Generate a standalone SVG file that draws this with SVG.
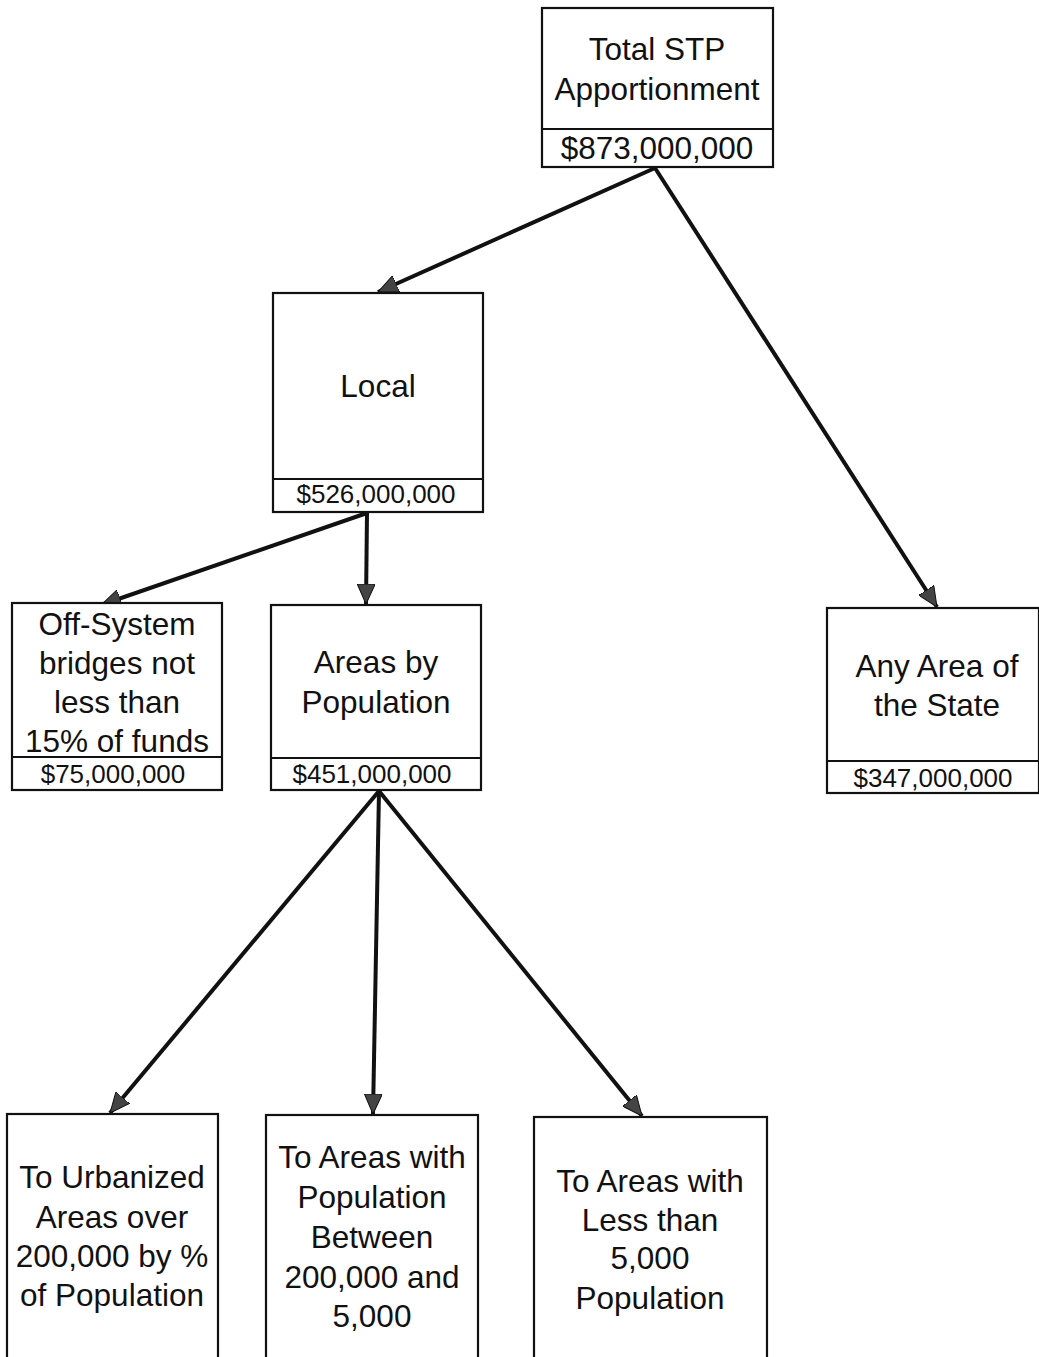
<svg xmlns="http://www.w3.org/2000/svg" width="1039" height="1357" viewBox="0 0 1039 1357">
<style>
.box{fill:#fff;stroke:#111;stroke-width:2.2}
.div{stroke:#111;stroke-width:2.2}
.t{font-family:"Liberation Sans",Arial,sans-serif;font-size:31.5px;fill:#111;text-anchor:middle}
.a{font-family:"Liberation Sans",Arial,sans-serif;font-size:26px;fill:#111;text-anchor:middle}
.c{stroke:#111;stroke-width:4;fill:none;marker-end:url(#ah)}
</style>
<defs>
<marker id="ah" markerUnits="userSpaceOnUse" markerWidth="22" markerHeight="18" refX="20" refY="9" orient="auto">
<path d="M0,0 L20,9 L0,18 Z" fill="#444" stroke="#111" stroke-width="1"/>
</marker>
</defs>
<rect width="1039" height="1357" fill="#fff"/>
<g id="connectors">
<line class="c" x1="655" y1="168" x2="378" y2="292"/>
<line class="c" x1="655" y1="168" x2="937" y2="607"/>
<line class="c" x1="367" y1="513" x2="101" y2="605"/>
<line class="c" x1="367" y1="513" x2="366" y2="604"/>
<line class="c" x1="379" y1="791" x2="110" y2="1113"/>
<line class="c" x1="379" y1="791" x2="373" y2="1114"/>
<line class="c" x1="379" y1="791" x2="642" y2="1116"/>
</g>
<g id="total">
<rect class="box" x="542" y="8" width="231" height="159"/>
<line class="div" x1="542" y1="129" x2="773" y2="129"/>
<text class="t" x="657" y="60">Total STP</text>
<text class="t" x="657" y="100">Apportionment</text>
<text class="t" x="657" y="159">$873,000,000</text>
</g>
<g id="local">
<rect class="box" x="273" y="293" width="210" height="219"/>
<line class="div" x1="273" y1="479" x2="483" y2="479"/>
<text class="t" x="378" y="397">Local</text>
<text class="a" x="376" y="503">$526,000,000</text>
</g>
<g id="offsystem">
<rect class="box" x="12" y="603" width="210" height="187"/>
<line class="div" x1="12" y1="757" x2="222" y2="757"/>
<text class="t" x="117" y="635">Off-System</text>
<text class="t" x="117" y="674">bridges not</text>
<text class="t" x="117" y="713">less than</text>
<text class="t" x="117" y="752">15% of funds</text>
<text class="a" x="113" y="783">$75,000,000</text>
</g>
<g id="areasbypop">
<rect class="box" x="271" y="605" width="210" height="185"/>
<line class="div" x1="271" y1="758" x2="481" y2="758"/>
<text class="t" x="376" y="673">Areas by</text>
<text class="t" x="376" y="713">Population</text>
<text class="a" x="372" y="783">$451,000,000</text>
</g>
<g id="anyarea">
<rect class="box" x="827" y="608" width="212" height="185"/>
<line class="div" x1="827" y1="761" x2="1039" y2="761"/>
<text class="t" x="937" y="677">Any Area of</text>
<text class="t" x="937" y="716">the State</text>
<text class="a" x="933" y="787">$347,000,000</text>
</g>
<g id="urbanized">
<rect class="box" x="7" y="1114" width="211" height="250"/>
<text class="t" x="112" y="1188">To Urbanized</text>
<text class="t" x="112" y="1228">Areas over</text>
<text class="t" x="112" y="1267">200,000 by %</text>
<text class="t" x="112" y="1306">of Population</text>
</g>
<g id="between">
<rect class="box" x="266" y="1115" width="212" height="250"/>
<text class="t" x="372" y="1168">To Areas with</text>
<text class="t" x="372" y="1208">Population</text>
<text class="t" x="372" y="1248">Between</text>
<text class="t" x="372" y="1288">200,000 and</text>
<text class="t" x="372" y="1327">5,000</text>
</g>
<g id="lessthan">
<rect class="box" x="534" y="1117" width="233" height="250"/>
<text class="t" x="650" y="1192">To Areas with</text>
<text class="t" x="650" y="1231">Less than</text>
<text class="t" x="650" y="1269">5,000</text>
<text class="t" x="650" y="1309">Population</text>
</g>
</svg>
